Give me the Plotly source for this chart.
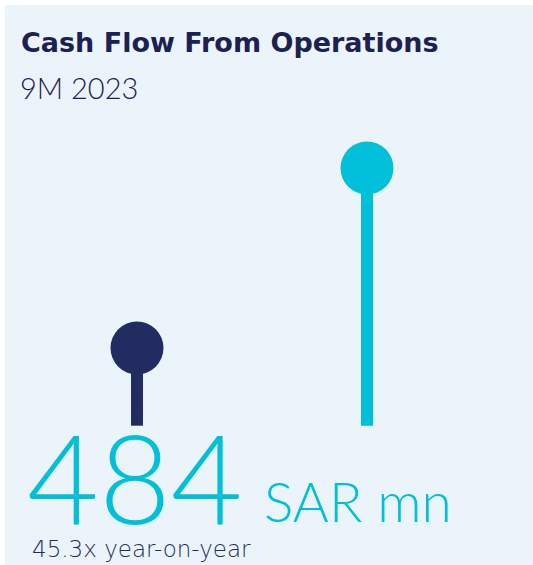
import plotly.graph_objects as go

# lollipop heights as drawn (previous period vs current period)
periods = ["9M 2022", "9M 2023"]
heights = [146, 484]
colors = ["#232C61", "#00C0D9"]

headline_value = "484"
headline_unit = "SAR mn"
growth_note = "45.3x year-on-year"

W, H = 533, 565
px_per_cat = 230
first_cat_px = 137
base_px_from_bottom = 139.3
px_per_unit = 0.5324

fig = go.Figure()

fig.add_trace(
    go.Bar(
        x=periods,
        y=heights,
        width=12 / px_per_cat,
        marker=dict(color=colors, line=dict(width=0)),
        hoverinfo="skip",
    )
)
fig.add_trace(
    go.Scatter(
        x=periods,
        y=heights,
        mode="markers",
        marker=dict(size=53, color=colors, line=dict(width=0)),
        hovertemplate="%{x}<extra></extra>",
    )
)

# panel background
fig.add_shape(
    type="rect", xref="paper", yref="paper",
    x0=5 / W, x1=1, y0=0, y1=1 - 5 / H,
    fillcolor="#EBF4FB", line=dict(width=0), layer="below",
)

fig.add_annotation(
    text="<b>Cash Flow From Operations</b>", xref="paper", yref="paper",
    x=19 / W, y=1 - 25 / H, xanchor="left", yanchor="top", showarrow=False,
    font=dict(family="DejaVu Sans", size=27, color="#1C2152"),
)
fig.add_annotation(
    text="9M 2023", xref="paper", yref="paper",
    x=18 / W, y=1 - 68 / H, xanchor="left", yanchor="top", showarrow=False,
    font=dict(family="Lato", size=29, color="#1C2152", weight=300),
)
fig.add_annotation(
    text=headline_value, xref="paper", yref="paper",
    x=25 / W, y=1 - 552 / H, xanchor="left", yanchor="bottom", showarrow=False,
    font=dict(family="Lato", size=124, color="#00C0D9", weight=300),
)
fig.add_annotation(
    text=headline_unit, xref="paper", yref="paper",
    x=262 / W, y=1 - 536 / H, xanchor="left", yanchor="bottom", showarrow=False,
    font=dict(family="Lato", size=55, color="#00C0D9", weight=300),
)
fig.add_annotation(
    text=growth_note, xref="paper", yref="paper",
    x=30 / W, y=1 - 564 / H, xanchor="left", yanchor="bottom", showarrow=False,
    font=dict(family="DejaVu Sans", size=23, color="#232C61", weight=200),
)

fig.update_xaxes(
    range=[-first_cat_px / px_per_cat, (W - first_cat_px) / px_per_cat],
    visible=False, fixedrange=True,
)
fig.update_yaxes(
    range=[-base_px_from_bottom / px_per_unit, (H - base_px_from_bottom) / px_per_unit],
    visible=False, fixedrange=True,
)
fig.update_layout(
    width=W, height=H,
    margin=dict(l=0, r=0, t=0, b=0),
    paper_bgcolor="white",
    plot_bgcolor="rgba(0,0,0,0)",
    showlegend=False,
)

fig.write_html(
    "out.html",
    config={"displayModeBar": False},
    post_script="document.body.style.margin='0';document.body.style.overflow='hidden';",
)
